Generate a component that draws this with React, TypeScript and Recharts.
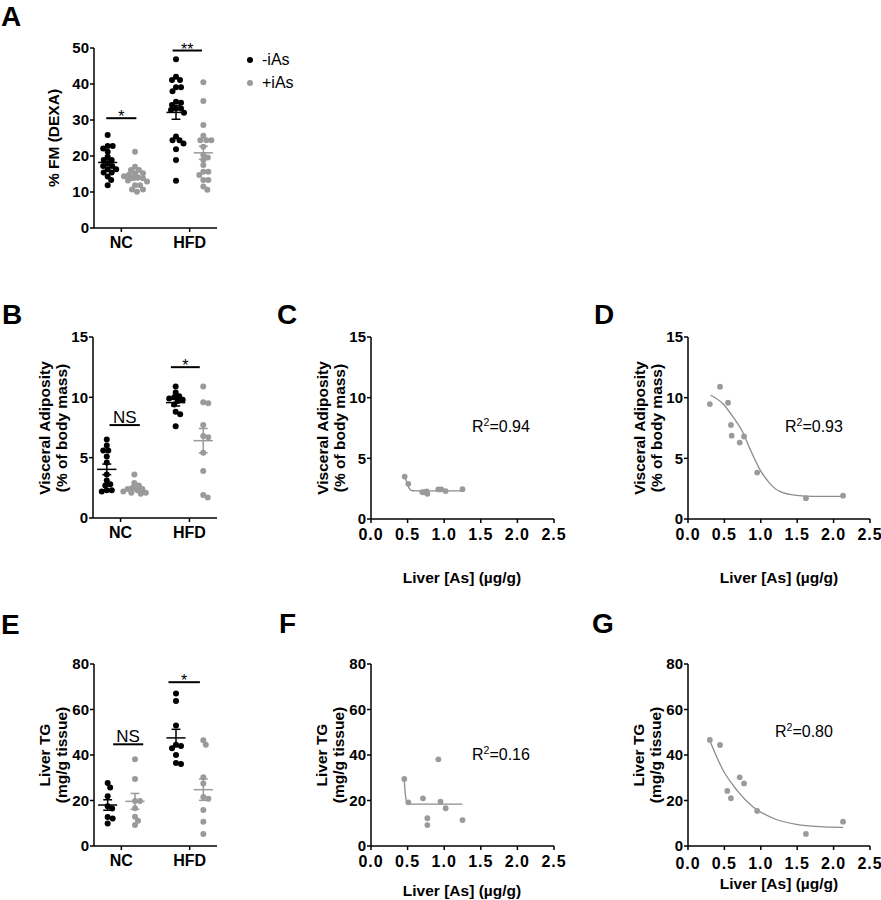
import React from 'react';
import { ComposedChart, Scatter, Line, XAxis, YAxis, ReferenceLine } from 'recharts';

const FONT = '"Liberation Sans", Arial, Helvetica, sans-serif';
const BLACK = '#000000';
const GRAY = '#9a9a9a';
const FIT = '#8c8c8c';

// A: % fat mass by DEXA
const fmNcMinus = [25.8, 22.8, 22.8, 22.1, 21.2, 19.8, 18.9, 18.9, 18.0, 17.2, 17.2, 16.3, 16.3, 15.4, 15.4, 14.3, 13.3, 11.9];
const fmNcPlus = [21.2, 17.0, 16.1, 16.1, 15.2, 15.2, 14.8, 14.4, 14.0, 13.8, 13.8, 13.2, 12.9, 11.9, 11.9, 10.7, 10.7, 10.1];
const fmHfdMinus = [46.9, 42.0, 41.1, 41.1, 39.1, 39.1, 38.0, 35.1, 34.8, 34.2, 33.2, 33.2, 32.8, 32.0, 25.4, 24.4, 24.4, 23.5, 21.9, 18.9, 13.1];
const fmHfdPlus = [40.5, 35.3, 28.6, 25.6, 24.4, 24.4, 24.4, 22.6, 20.3, 19.6, 18.9, 17.5, 15.6, 15.6, 14.7, 13.3, 13.3, 11.5, 10.6];

// B: visceral adiposity
const vaNcMinus = [6.5, 6.0, 5.6, 5.6, 5.1, 4.6, 3.6, 3.1, 2.8, 2.7, 2.3, 2.3, 2.2];
const vaNcPlus = [3.6, 2.9, 2.7, 2.5, 2.4, 2.4, 2.3, 2.2, 2.1, 2.1, 2.0];
const vaHfdMinus = [10.9, 10.4, 10.1, 10.0, 9.9, 9.8, 9.7, 9.4, 8.8, 8.6, 7.6];
const vaHfdPlus = [10.9, 9.6, 9.5, 7.7, 6.8, 6.7, 5.4, 3.9, 1.9, 1.7];

// E: liver TG
const tgNcMinus = [27.7, 25.7, 21.9, 17.5, 16.5, 12.8, 12.1, 9.9];
const tgNcPlus = [38.1, 29.5, 19.8, 19.8, 16.6, 12.9, 11.1, 9.2];
const tgHfdMinus = [67.0, 63.7, 53.0, 44.5, 44.0, 43.0, 40.0, 36.5, 36.0];
const tgHfdPlus = [46.5, 44.5, 30.2, 27.5, 21.5, 20.8, 15.8, 10.7, 5.3];

// C: NC +iAs, liver As vs visceral adiposity
const asC = [0.46, 0.51, 0.70, 0.72, 0.76, 0.77, 0.92, 0.96, 1.02, 1.25];
const vaC = [3.5, 2.9, 2.22, 2.2, 2.27, 2.08, 2.44, 2.44, 2.3, 2.46];
const fitCx = [0.46, 0.49, 0.52, 0.55, 0.6, 1.25];
const fitCy = [3.55, 3.0, 2.55, 2.36, 2.32, 2.32];

// D: HFD +iAs, liver As vs visceral adiposity
const asD = [0.30, 0.44, 0.55, 0.59, 0.60, 0.71, 0.77, 0.95, 1.62, 2.13];
const vaD = [9.47, 10.9, 9.58, 7.75, 6.87, 6.3, 6.8, 3.83, 1.72, 1.92];
const fitDx = [0.31, 0.48, 0.62, 0.76, 0.85, 0.99, 1.12, 1.26, 1.49, 1.72, 2.13];
const fitDy = [10.2, 9.5, 8.4, 7.06, 5.8, 4.05, 2.96, 2.27, 1.94, 1.86, 1.86];

// F: NC +iAs, liver As vs liver TG
const asF = [0.455, 0.51, 0.71, 0.77, 0.77, 0.92, 0.95, 1.02, 1.25];
const tgF = [29.5, 19.2, 20.95, 12.2, 9.2, 38.1, 19.5, 16.6, 11.4];
const fitFx = [0.455, 0.47, 0.49, 0.52, 0.6, 1.25];
const fitFy = [28.5, 22.5, 19.2, 18.5, 18.4, 18.4];

// G: HFD +iAs, liver As vs liver TG
const asG = [0.30, 0.44, 0.54, 0.59, 0.71, 0.77, 0.95, 1.62, 2.13];
const tgG = [46.6, 44.4, 24.2, 21.0, 30.2, 27.5, 15.4, 5.3, 10.7];
const fitGx = [0.31, 0.48, 0.67, 0.89, 1.17, 1.49, 1.81, 2.13];
const fitGy = [45.5, 33.4, 24.6, 17.3, 12.2, 9.5, 8.5, 8.2];

const groupNames = ['NC', 'HFD'];
const asTicks = [0, 0.5, 1, 1.5, 2, 2.5];
const fmTicks = [0, 10, 20, 30, 40, 50];
const vaTicks = [0, 5, 10, 15];
const tgTicks = [0, 20, 40, 60, 80];

const YW = 60;
const TM = 20;
const RM = 12;
const XH = 40;
const X_LO = 0.6;
const X_HI = 2.4;

const tickStyle = { fill: BLACK, fontSize: 15, fontWeight: 700, fontFamily: FONT };
const numTickStyle = { ...tickStyle, fontSize: 16, letterSpacing: 1 };
const axisStyle = { stroke: BLACK, strokeWidth: 1.5 };

const mean = (a: number[]) => a.reduce((s, v) => s + v, 0) / a.length;
const sem = (a: number[]) => {
  const m = mean(a);
  const sd = Math.sqrt(a.reduce((s, v) => s + (v - m) ** 2, 0) / (a.length - 1));
  return sd / Math.sqrt(a.length);
};

// push dots sideways until they stop overlapping, like a prism dot plot
function swarm(values: number[], center: number, pxY: number, pxX: number, diam: number) {
  const placed: { dx: number; py: number }[] = [];
  [...values].sort((a, b) => b - a).forEach((v) => {
    const py = v * pxY;
    let dx = 0;
    for (let k = 0; k < 80; k++) {
      const off = k === 0 ? 0 : (k % 2 ? 1 : -1) * Math.ceil(k / 2) * 0.5;
      if (placed.every((p) => Math.hypot(p.dx - off, p.py - py) >= diam)) {
        dx = off;
        break;
      }
    }
    placed.push({ dx, py });
  });
  return placed.map((p) => ({ x: center + p.dx / pxX, y: p.py / pxY }));
}

const dot = (r: number, color: string) => (p: any) => <circle cx={p.cx} cy={p.cy} r={r} fill={color} />;

const sigText = (t: string) => (p: any) =>
  t === 'NS' ? (
    <text x={p.cx} y={p.cy - 2} textAnchor="middle" fontSize={17} fontFamily={FONT} fill={BLACK}>{t}</text>
  ) : (
    <text x={p.cx} y={p.cy + 4} textAnchor="middle" fontSize={16} fontFamily={FONT} fill={BLACK}>{t}</text>
  );

type Col = { values: number[]; x: number; color: string };
type Sig = { x1: number; x2: number; y: number; text: string };

function ColumnPanel({ box, cols, yMax, yTicks, sigs }: { box: number[]; cols: Col[]; yMax: number; yTicks: number[]; sigs: Sig[] }) {
  const [left, top, pw, ph] = box;
  const pxY = ph / yMax;
  const pxX = pw / (X_HI - X_LO);
  const seg = (x1: number, y1: number, x2: number, y2: number) => [{ x: x1, y: y1 }, { x: x2, y: y2 }];
  return (
    <div style={{ position: 'absolute', left: left - YW, top: top - TM }}>
      <ComposedChart width={pw + YW + RM} height={ph + TM + XH} margin={{ top: TM, right: RM, bottom: 0, left: 0 }}>
        <XAxis type="number" dataKey="x" domain={[X_LO, X_HI]} ticks={[1, 2]} interval={0}
          tickFormatter={(v: number) => groupNames[v - 1]} height={XH}
          axisLine={axisStyle} tickLine={axisStyle} tickSize={4} tickMargin={5} tick={{ ...tickStyle, fontSize: 16 }} />
        <YAxis type="number" dataKey="y" domain={[0, yMax]} ticks={yTicks} interval={0} width={YW}
          axisLine={axisStyle} tickLine={axisStyle} tickSize={4} tickMargin={1} tick={tickStyle} />
        {cols.map((c, i) => (
          <Scatter key={'d' + i} data={swarm(c.values, c.x, pxY, pxX, 5)} dataKey="y"
            shape={dot(3, c.color)} isAnimationActive={false} />
        ))}
        {cols.flatMap((c, i) => {
          const m = mean(c.values);
          const e = sem(c.values);
          return [
            <ReferenceLine key={'m' + i} segment={seg(c.x - 0.14, m, c.x + 0.14, m)} stroke={c.color} strokeWidth={1.5} />,
            <ReferenceLine key={'v' + i} segment={seg(c.x, m - e, c.x, m + e)} stroke={c.color} strokeWidth={1.5} />,
            <ReferenceLine key={'t' + i} segment={seg(c.x - 0.065, m + e, c.x + 0.065, m + e)} stroke={c.color} strokeWidth={1.5} />,
            <ReferenceLine key={'b' + i} segment={seg(c.x - 0.065, m - e, c.x + 0.065, m - e)} stroke={c.color} strokeWidth={1.5} />,
          ];
        })}
        {sigs.map((s, i) => (
          <ReferenceLine key={'s' + i} segment={seg(s.x1, s.y, s.x2, s.y)} stroke={BLACK} strokeWidth={2} />
        ))}
        {sigs.map((s, i) => (
          <Scatter key={'l' + i} data={[{ x: (s.x1 + s.x2) / 2, y: s.y }]} dataKey="y"
            shape={sigText(s.text)} isAnimationActive={false} />
        ))}
      </ComposedChart>
    </div>
  );
}

function FitPanel({ box, xs, ys, fx, fy, yMax, yTicks, gap }: {
  box: number[]; xs: number[]; ys: number[]; fx: number[]; fy: number[]; yMax: number; yTicks: number[]; gap: number;
}) {
  const [left, top, pw, ph] = box;
  return (
    <div style={{ position: 'absolute', left: left - YW, top: top - TM }}>
      <ComposedChart width={pw + YW + RM} height={ph + TM + XH} margin={{ top: TM, right: RM, bottom: 0, left: 0 }}>
        <XAxis type="number" dataKey="x" domain={[0, 2.5]} ticks={asTicks} interval={0}
          tickFormatter={(v: number) => v.toFixed(1)} height={XH}
          axisLine={axisStyle} tickLine={axisStyle} tickSize={4} tickMargin={gap} tick={numTickStyle} />
        <YAxis type="number" dataKey="y" domain={[0, yMax]} ticks={yTicks} interval={0} width={YW}
          axisLine={axisStyle} tickLine={axisStyle} tickSize={4} tickMargin={1} tick={tickStyle} />
        <Line data={fx.map((x, i) => ({ x, y: fy[i] }))} dataKey="y" type="monotone" stroke={FIT}
          strokeWidth={1.3} dot={false} activeDot={false} isAnimationActive={false} />
        <Scatter data={xs.map((x, i) => ({ x, y: ys[i] }))} dataKey="y" shape={dot(2.9, GRAY)} isAnimationActive={false} />
      </ComposedChart>
    </div>
  );
}

function YTitle({ x, y, lines }: { x: number; y: number; lines: string[] }) {
  return (
    <>
      {lines.map((t, i) => {
        const cx = x + i * 17;
        return (
          <text key={i} x={cx} y={y} transform={`rotate(-90 ${cx} ${y})`} textAnchor="middle"
            dominantBaseline="central" fontSize={15.5} fontWeight={700}>{t}</text>
        );
      })}
    </>
  );
}

function R2({ x, y, value }: { x: number; y: number; value: string }) {
  return (
    <text x={x} y={y} fontSize={16}>
      R<tspan dy={-6} fontSize={10.5}>2</tspan><tspan dy={6}>={value}</tspan>
    </text>
  );
}

const letter = (t: string, x: number, y: number) => (
  <text x={x} y={y} fontSize={28} fontWeight={700}>{t}</text>
);

export default function App() {
  const va = ['Visceral Adiposity', '(% of body mass)'];
  const tg = ['Liver TG', '(mg/g tissue)'];
  const asLabel = 'Liver [As] (\u00b5g/g)';
  return (
    <div style={{ position: 'absolute', left: 0, top: 0, width: 881, height: 900, overflow: 'hidden', background: '#fff' }}>
      <ColumnPanel box={[94, 48, 123, 180]} yMax={50} yTicks={fmTicks}
        cols={[
          { values: fmNcMinus, x: 0.8, color: BLACK },
          { values: fmNcPlus, x: 1.2, color: GRAY },
          { values: fmHfdMinus, x: 1.8, color: BLACK },
          { values: fmHfdPlus, x: 2.2, color: GRAY },
        ]}
        sigs={[{ x1: 0.78, x2: 1.22, y: 30.5, text: '*' }, { x1: 1.75, x2: 2.18, y: 49.3, text: '**' }]} />
      <ColumnPanel box={[93, 337, 124, 181]} yMax={15} yTicks={vaTicks}
        cols={[
          { values: vaNcMinus, x: 0.8, color: BLACK },
          { values: vaNcPlus, x: 1.2, color: GRAY },
          { values: vaHfdMinus, x: 1.8, color: BLACK },
          { values: vaHfdPlus, x: 2.2, color: GRAY },
        ]}
        sigs={[{ x1: 0.84, x2: 1.28, y: 7.7, text: 'NS' }, { x1: 1.73, x2: 2.15, y: 12.5, text: '*' }]} />
      <ColumnPanel box={[94, 664, 123, 182]} yMax={80} yTicks={tgTicks}
        cols={[
          { values: tgNcMinus, x: 0.8, color: BLACK },
          { values: tgNcPlus, x: 1.2, color: GRAY },
          { values: tgHfdMinus, x: 1.8, color: BLACK },
          { values: tgHfdPlus, x: 2.2, color: GRAY },
        ]}
        sigs={[{ x1: 0.88, x2: 1.32, y: 44.7, text: 'NS' }, { x1: 1.69, x2: 2.15, y: 72, text: '*' }]} />

      <FitPanel box={[371, 337, 183, 182]} xs={asC} ys={vaC} fx={fitCx} fy={fitCy} yMax={15} yTicks={vaTicks} gap={6} />
      <FitPanel box={[688, 337, 182, 182]} xs={asD} ys={vaD} fx={fitDx} fy={fitDy} yMax={15} yTicks={vaTicks} gap={6} />
      <FitPanel box={[371, 664, 183, 182]} xs={asF} ys={tgF} fx={fitFx} fy={fitFy} yMax={80} yTicks={tgTicks} gap={6} />
      <FitPanel box={[688, 664, 182, 182]} xs={asG} ys={tgG} fx={fitGx} fy={fitGy} yMax={80} yTicks={tgTicks} gap={8} />

      <svg width={881} height={900} style={{ position: 'absolute', left: 0, top: 0, pointerEvents: 'none' }} fontFamily={FONT} fill={BLACK}>
        {letter('A', 1, 26)}
        {letter('B', 2, 324)}
        {letter('C', 277, 324)}
        {letter('D', 594, 324)}
        {letter('E', 1, 634)}
        {letter('F', 279, 633)}
        {letter('G', 592, 633)}

        <YTitle x={53} y={138} lines={['% FM (DEXA)']} />
        <YTitle x={44} y={428} lines={va} />
        <YTitle x={322} y={428} lines={va} />
        <YTitle x={639} y={428} lines={va} />
        <YTitle x={44} y={755} lines={tg} />
        <YTitle x={321} y={755} lines={tg} />
        <YTitle x={638} y={755} lines={tg} />

        <circle cx={250} cy={60} r={3} fill={BLACK} />
        <text x={262} y={65} fontSize={16}>-iAs</text>
        <circle cx={250} cy={83} r={3} fill={GRAY} />
        <text x={262} y={88} fontSize={16}>+iAs</text>

        <R2 x={472} y={432} value="0.94" />
        <R2 x={785} y={432} value="0.93" />
        <R2 x={472} y={760} value="0.16" />
        <R2 x={775} y={737} value="0.80" />

        <text x={462} y={583} textAnchor="middle" fontSize={15.5} fontWeight={700}>{asLabel}</text>
        <text x={779} y={583} textAnchor="middle" fontSize={15.5} fontWeight={700}>{asLabel}</text>
        <text x={462} y={896} textAnchor="middle" fontSize={15.5} fontWeight={700}>{asLabel}</text>
        <text x={779} y={889} textAnchor="middle" fontSize={15.5} fontWeight={700}>{asLabel}</text>
      </svg>
    </div>
  );
}
